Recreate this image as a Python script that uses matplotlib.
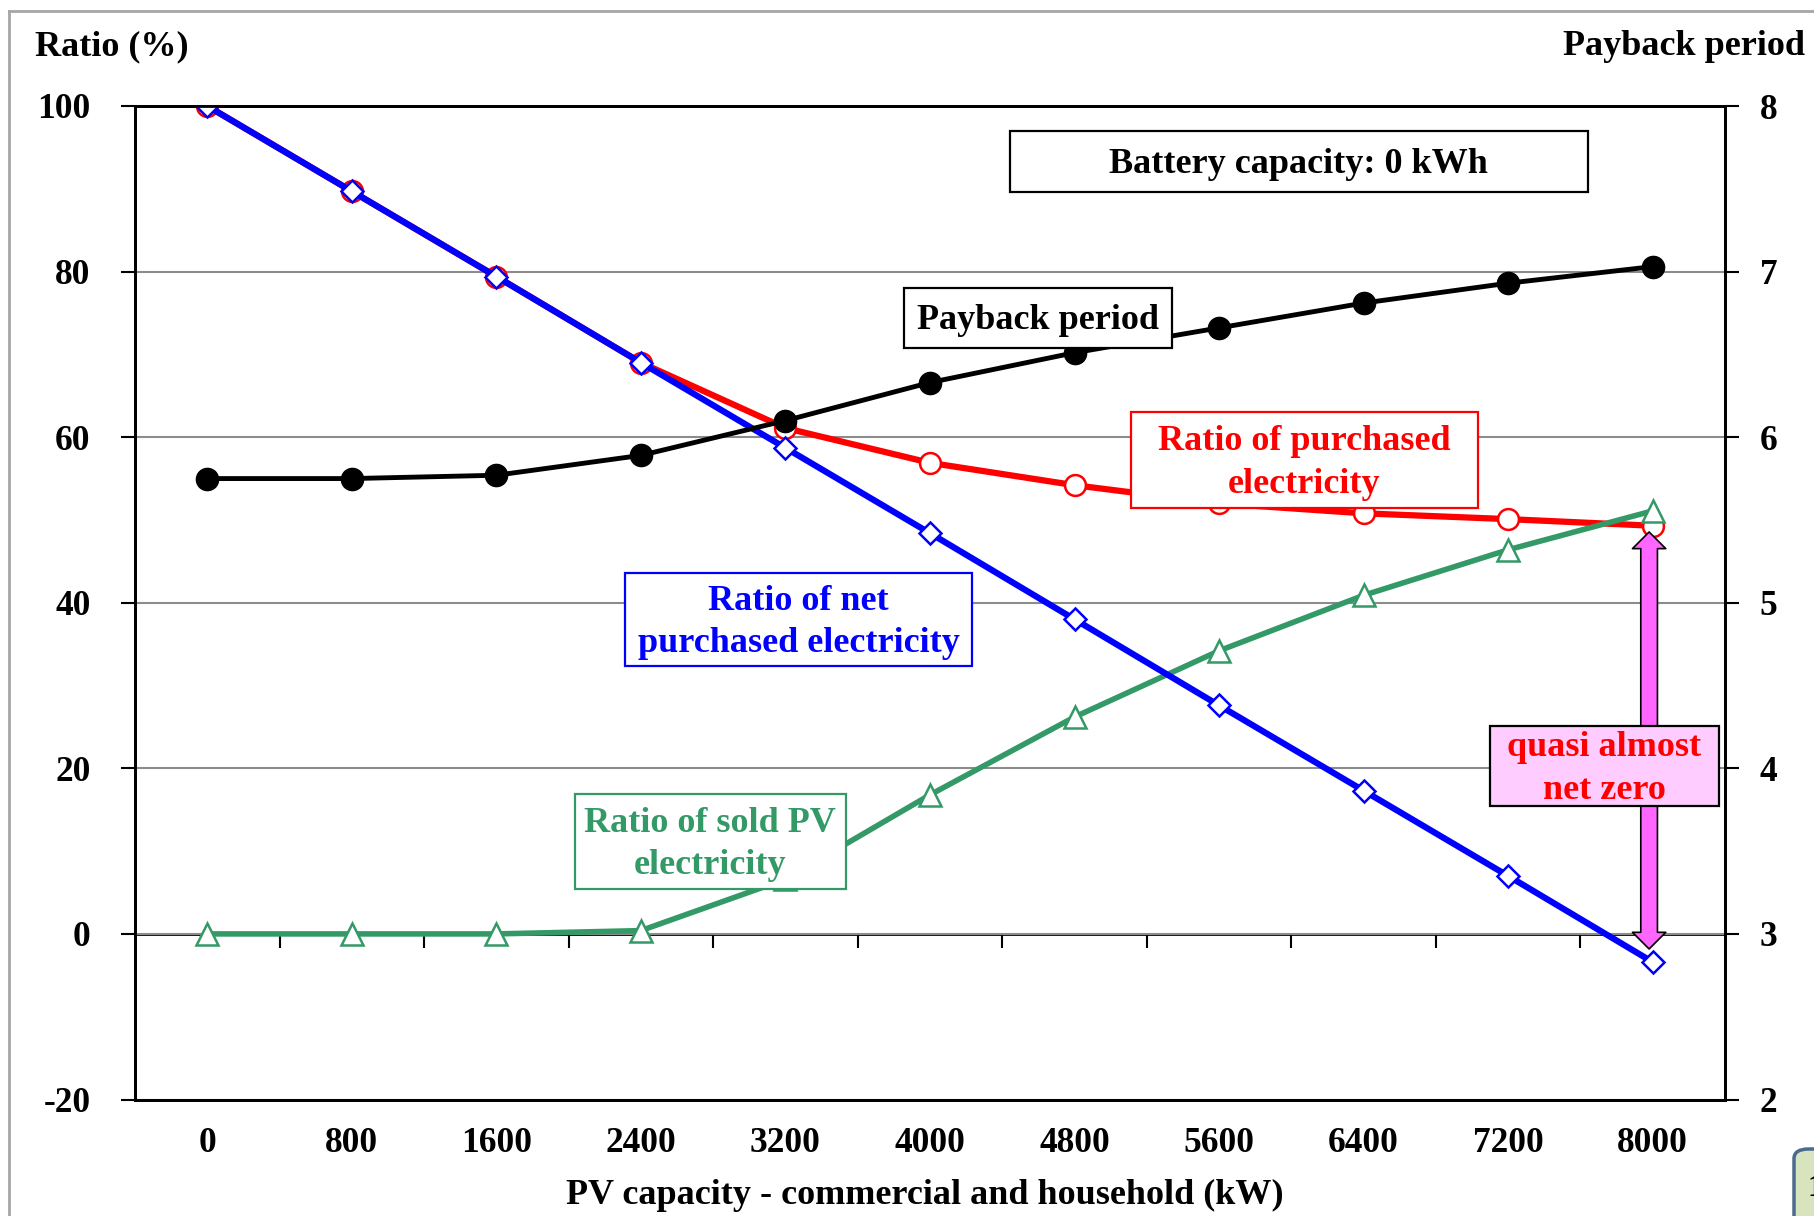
import matplotlib
matplotlib.use("Agg")
import matplotlib.pyplot as plt
from matplotlib.patches import Rectangle, FancyArrowPatch, FancyBboxPatch
from matplotlib.lines import Line2D

# PV capacity categories (kW) and the four series
pv_capacity = [0, 800, 1600, 2400, 3200, 4000, 4800, 5600, 6400, 7200, 8000]
net_purchased = [100, 89.7, 79.4, 69.0, 58.7, 48.4, 38.0, 27.6, 17.3, 7.0, -3.4]
purchased = [100, 89.7, 79.4, 69.0, 61.1, 56.9, 54.2, 52.0, 50.8, 50.1, 49.3]
sold_pv = [0, 0, 0, 0.4, 6.6, 16.8, 26.2, 34.2, 40.9, 46.4, 51.1]
payback = [5.75, 5.75, 5.77, 5.89, 6.10, 6.33, 6.51, 6.66, 6.81, 6.93, 7.03]

ratio_ticks = [-20, 0, 20, 40, 60, 80, 100]
payback_ticks = [2, 3, 4, 5, 6, 7, 8]
category_step = 800

RED = "#FF0000"
BLUE = "#0000FF"
GREEN = "#339966"
PINK = "#FF66FF"
PINK_LIGHT = "#FFCCFF"

plt.rcParams["font.family"] = ["Liberation Serif", "DejaVu Serif"]
plt.rcParams["font.weight"] = "bold"
plt.rcParams["axes.labelweight"] = "bold"
plt.rcParams["axes.unicode_minus"] = False

W, H = 1814, 1216
fig = plt.figure(figsize=(W / 100, H / 100), dpi=100)
left, right, top, bottom = 135 / W, 1725 / W, 1 - 106 / H, 1 - 1099.5 / H
ax = fig.add_axes([left, bottom, right - left, top - bottom])
ax2 = ax.twinx()

# --- primary axis: ratios (%) ---
ax.set_xlim(pv_capacity[0] - category_step / 2, pv_capacity[-1] + category_step / 2)
ax.set_ylim(ratio_ticks[0], ratio_ticks[-1])
ax.set_yticks(ratio_ticks)
ax.set_xticks(pv_capacity)
ax.set_xticklabels([str(v) for v in pv_capacity])
ax.tick_params(axis="x", length=0, pad=20, labelsize=25.5)
ax.tick_params(axis="y", direction="out", length=10, width=1.5, pad=22, labelsize=25.5)
ax.yaxis.grid(True, color="#8c8c8c", lw=1.5)
ax.set_axisbelow(True)
for s in ax.spines.values():
    s.set_linewidth(2)
    s.set_color("black")

# category axis crossing at 0 with ticks between categories
zero_frac = (0 - ratio_ticks[0]) / (ratio_ticks[-1] - ratio_ticks[0])
sec = ax.secondary_xaxis(zero_frac)
boundaries = [v + category_step / 2 for v in pv_capacity[:-1]]
sec.set_xticks(boundaries)
sec.tick_params(axis="x", direction="out", length=10, width=1.5, labelbottom=False)
sec.spines["bottom"].set_linewidth(2)

ax.plot(pv_capacity, purchased, color=RED, lw=4.5, marker="o", ms=15,
        mfc="white", mec=RED, mew=1.8, zorder=3)
ax.plot(pv_capacity, sold_pv, color=GREEN, lw=4.0, marker="^", ms=16,
        mfc="white", mec=GREEN, mew=1.8, zorder=4)
ax.plot(pv_capacity, net_purchased, color=BLUE, lw=4.5, marker="D", ms=11,
        mfc="white", mec=BLUE, mew=1.8, zorder=5)

# --- secondary axis: payback period ---
ax2.set_ylim(payback_ticks[0], payback_ticks[-1])
ax2.set_yticks(payback_ticks)
ax2.tick_params(axis="y", direction="out", length=10, width=1.5, pad=15, labelsize=25.5)
for s in ax2.spines.values():
    s.set_linewidth(2)
ax2.plot(pv_capacity, payback, color="black", lw=3.5, marker="o", ms=16, zorder=3)

# axis titles
ax.set_ylabel("Ratio (%)", rotation=0, fontsize=26, ha="center", va="center")
ax.yaxis.set_label_coords(-0.0145, 1.0594)
ax2.set_ylabel("Payback period", rotation=0, fontsize=26, ha="center", va="center")
ax2.yaxis.set_label_coords(0.9745, 1.0594)
ax.set_xlabel("PV capacity - commercial and household (kW)", fontsize=26, va="center")
ax.xaxis.set_label_coords(0.4965, -0.0965)


def label_box(x0, y0, x1, y1, text, color, edge, face="white"):
    ax2.add_patch(Rectangle((x0, y0), x1 - x0, y1 - y0, transform=ax2.transAxes,
                            facecolor=face, edgecolor=edge, lw=1.6, zorder=10, clip_on=False))
    ax2.text((x0 + x1) / 2, (y0 + y1) / 2 - 0.003, text, transform=ax2.transAxes,
             ha="center", va="center", color=color, fontsize=26, fontweight="bold",
             zorder=11, linespacing=1.38)


# double arrow pointing at the purchased ratio and the net ratio at 8000 kW
arrow_style = "simple,head_width=24,head_length=12,tail_width=12"
for tip in (48.55, -1.82):
    ax2.add_patch(FancyArrowPatch((7980, 20), (7980, tip), transform=ax.transData,
                                  arrowstyle=arrow_style, mutation_scale=1,
                                  facecolor=PINK, edgecolor="black", lw=1.2,
                                  shrinkA=0, shrinkB=0, zorder=9))

label_box(0.550, 0.913, 0.914, 0.975, "Battery capacity: 0 kWh", "black", "black")
label_box(0.4836, 0.7564, 0.652, 0.817, "Payback period", "black", "black")
label_box(0.6264, 0.5957, 0.8447, 0.6917, "Ratio of purchased\nelectricity", RED, RED)
label_box(0.3082, 0.4363, 0.5264, 0.530, "Ratio of net\npurchased electricity", BLUE, BLUE)
label_box(0.2767, 0.2116, 0.4470, 0.3075, "Ratio of sold PV\nelectricity", GREEN, GREEN)
label_box(0.8522, 0.2954, 0.9962, 0.3759, "quasi almost\nnet zero", RED, "black", PINK_LIGHT)

# slide frame and page-number tab
fig.add_artist(Line2D([9 / W, 9 / W], [0, 1 - 11 / H], transform=fig.transFigure,
                      color="#a6a6a6", lw=2))
fig.add_artist(Line2D([9 / W, 1], [1 - 11 / H, 1 - 11 / H], transform=fig.transFigure,
                      color="#a6a6a6", lw=2))
fig.add_artist(FancyBboxPatch((1794 / W, -0.05), 0.05, 0.05 + 1 - 1149 / H,
                              boxstyle="round,pad=0,rounding_size=0.008",
                              transform=fig.transFigure, facecolor="#D7E4BD",
                              edgecolor="#4A6A8F", lw=2.5))
fig.text(1808 / W, 1 - 1188 / H, "1", fontsize=22, va="center", ha="left", color="black")

fig.savefig("out.png", dpi=100)
